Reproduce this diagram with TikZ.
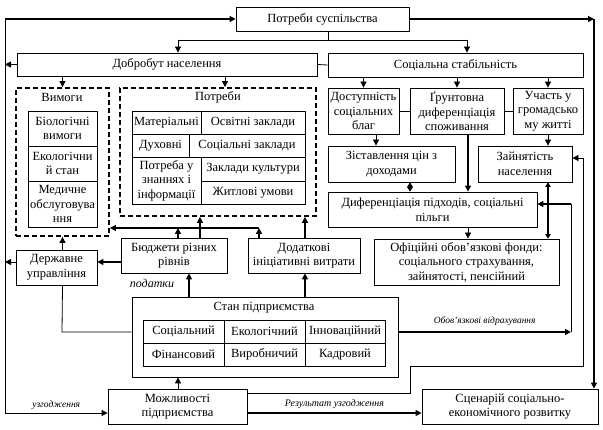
\documentclass[tikz,border=0pt]{standalone}
\usepackage{fontspec}
\setmainfont{Liberation Serif}
\usetikzlibrary{arrows.meta,calc}
\tikzset{
  box/.style={draw, line width=0.8pt, inner sep=1pt, align=center, font=\fontsize{12.5}{14.5}\selectfont},
  dbox/.style={line width=1.8pt, dash pattern=on 5pt off 3pt},
  ln/.style={line width=0.8pt},
  tk/.style={line width=2.4pt},
  arr/.style={-{Triangle[length=6pt,width=6pt]}},
  barr/.style={{Triangle[length=4.5pt,width=5.5pt]}-{Triangle[length=4.5pt,width=5.5pt]}},
  lbl/.style={font=\itshape\fontsize{9.5}{10}\selectfont, inner sep=1pt},
  ttl/.style={font=\fontsize{12.5}{14.5}\selectfont, inner sep=1pt},
}
\newcommand\mybox[7][]{\node[box,#1,minimum width={(#5-#3)*1pt},minimum height={(#6-#4)*1pt}] (#2) at ({(#3+#5)/2},{(#4+#6)/2}) {#7};}
\begin{document}
\begin{tikzpicture}[x=1pt,y=-1pt]
\useasboundingbox (0,0) rectangle (603,430);
% boxes
\mybox{ps}{236}{7}{409}{31}{Потреби суспільства}
\mybox{dob}{17}{53}{317}{76}{Добробут населення}
\mybox{soc}{328}{53}{583}{77}{Соціальна стабільність}
\mybox[dbox]{vym}{16}{88}{109}{236}{}
\mybox[dbox]{potr}{120}{88}{316}{216}{}
\node[ttl] (vymt) at (62,97) {Вимоги};
\node[ttl] (potrt) at (218,97) {Потреби};
\mybox{v1}{28}{111}{97}{146}{Біологічні\\вимоги}
\mybox{v2}{28}{146}{97}{181}{Екологічни\\й стан}
\mybox{v3}{28}{181}{97}{227}{Медичне\\обслуговува\\ння}
\mybox{m1}{132}{111}{201}{134}{Матеріальні}
\mybox{m2}{201}{111}{305}{134}{Освітні заклади}
\mybox{m3}{132}{134}{189}{157}{Духовні}
\mybox{m4}{189}{134}{305}{157}{Соціальні заклади}
\mybox{m5}{132}{157}{201}{204}{Потреба у\\знаннях і\\інформації}
\mybox{m6}{201}{157}{305}{181}{Заклади культури}
\mybox{m7}{201}{181}{305}{204}{Житлові умови}
\mybox{dost}{328}{88}{399}{134}{Доступність\\соціальних\\благ}
\mybox{grunt}{410}{88}{504}{134}{Ґрунтовна\\диференціація\\споживання}
\mybox{uch}{513}{88}{583}{134}{Участь у\\громадсько\\му житті}
\mybox{zist}{328}{146}{455}{182}{Зіставлення цін з\\доходами}
\mybox{zayn}{478}{146}{572}{182}{Зайнятість\\населення}
\mybox{dyf}{328}{192}{537}{227}{Диференціація підходів, соціальні\\пільги}
\mybox{ofi}{374}{239}{559}{285}{Офіційні обов’язкові фонди:\\соціального страхування,\\зайнятості, пенсійний}
\mybox{budz}{121}{238}{227}{273}{Бюджети різних\\рівнів}
\mybox{dod}{248}{238}{360}{273}{Додаткові\\ініціативні витрати}
\mybox{derzh}{16}{250}{97}{285}{Державне\\управління}
\mybox{stan}{132}{297}{398}{377}{}
\node[ttl] (stant) at (264,308) {Стан підприємства};
\mybox{s1}{143}{320}{224}{343}{Соціальний}
\mybox{s2}{224}{320}{305}{343}{Екологічний}
\mybox{s3}{305}{320}{385}{343}{Інноваційний}
\mybox{s4}{143}{343}{224}{366}{Фінансовий}
\mybox{s5}{224}{343}{305}{366}{Виробничий}
\mybox{s6}{305}{343}{385}{366}{Кадровий}
\mybox{mozh}{108}{389}{247}{424}{Можливості\\підприємства}
\mybox{scen}{422}{389}{598}{424}{Сценарій соціально-\\економічного розвитку}
% coordinates
\coordinate (L1) at (5,19);
\coordinate (L2) at (5,413);
\coordinate (R1) at (594,19);
\coordinate (T1) at (178,40);
\coordinate (T2) at (467,40);
\coordinate (T3) at (328,40);
\coordinate (P1) at (225,0);
\coordinate (X376) at (376,0);
\coordinate (X410) at (410,0);
\coordinate (X468) at (468,0);
\coordinate (X178) at (178,0);
\coordinate (X189) at (189,0);
\coordinate (X200) at (200,0);
\coordinate (X305) at (305,0);
\coordinate (Y262) at (0,262);
\coordinate (O1) at (571,332);
\coordinate (O2) at (571,204);
\coordinate (M1) at (410,393);
\coordinate (M2) at (410,366);
\coordinate (M3) at (583,366);
\coordinate (M4) at (583,158);
\coordinate (S1) at (0,413);
\coordinate (D1) at (62,332);
\coordinate (B1) at (259,228);
% outer loop
\draw[ln] (L1) -- (L2);
\draw[tk,arr] (L1) -- (ps.west);
\draw[ln,arr] (L2) -- (mozh.west |- L2) node[lbl,midway,above=2pt] {узгодження};
\draw[tk,arr] (ps.east) -- (R1);
\draw[tk,arr] (R1) -- (R1 |- scen.north);
% top distribution
\draw[ln] (T3 |- ps.south) -- (T3);
\draw[ln] (T1) -- (T2);
\draw[ln,arr] (T1) -- (T1 |- dob.north);
\draw[ln,arr] (T2) -- (T2 |- soc.north);
\draw[ln,arr] (dob.west) -- (dob.west -| L1);
\draw[ln] (dob.east) -- (soc.west);
\draw[ln,arr] (vym.north |- dob.south) -- (vym.north);
\draw[ln,arr] (P1 |- dob.south) -- (P1 |- potr.north);
\draw[ln,arr] (dost.north |- soc.south) -- (dost.north);
\draw[ln,arr] (grunt.north |- soc.south) -- (grunt.north);
\draw[ln,arr] (uch.north |- soc.south) -- (uch.north);
% social stability block
\draw[ln] (dost.east) -- (grunt.west);
\draw[ln] (grunt.east) -- (uch.west);
\draw[ln,arr] (X376 |- dost.south) -- (X376 |- zist.north);
\draw[ln,arr] (uch.south) -- (uch.south |- zayn.north);
\draw[tk,arr] (X468 |- grunt.south) -- (X468 |- dyf.north);
\draw[ln,barr] (X410 |- zist.south) -- (X410 |- dyf.north);
\draw[ln,arr] (X468 |- dyf.south) -- (X468 |- ofi.north);
\draw[tk,barr] (uch.south |- zayn.south) -- (uch.south |- ofi.north);
% obligatory deductions
\draw[tk,arr] (stan.east |- O1) -- (O1) node[lbl,midway,above=4pt] {Обов’язкові відрахування};
\draw[ln] (O1) -- (O2);
\draw[tk,arr] (O2) -- (O2 -| dyf.east);
% possibilities -> employment
\draw[ln,arr] (mozh.east |- M1) -- (M1) -- (M2) -- (M3) -- (M4) -- (M4 -| zayn.east);
% possibilities -> scenario
\draw[tk,arr] (mozh.east |- S1) -- (scen.west |- S1) node[lbl,midway,above=2.5pt,font=\itshape\fontsize{10}{10}\selectfont] {Результат узгодження};
\draw[ln,arr] (X178 |- mozh.north) -- (X178 |- stan.south);
% enterprise state
\draw[tk,arr] (X189 |- stan.north) -- (X189 |- budz.south);
\draw[tk,arr] (X305 |- stan.north) -- (X305 |- dod.south);
\node[lbl,font=\itshape\fontsize{12}{12}\selectfont] (podatky) at (152,283) {податки};
\draw[tk,arr] (budz.west |- Y262) -- (derzh.east |- Y262);
\draw[ln,arr] (derzh.west |- Y262) -- (L1 |- Y262);
\draw[ln,arr] (vym.south |- derzh.north) -- (vym.south);
\draw[ln] (vym.south |- derzh.south) -- (D1) -- (D1 -| stan.west);
% bus to requirements
\draw[tk,arr] (B1 |- dod.north) -- (B1);
\draw[tk,arr] (B1) -- (B1 -| vym.east);
\draw[tk,arr] (X178 |- budz.north) -- (X178 |- B1);
\draw[tk,arr] (X200 |- budz.north) -- (X200 |- potr.south);
\draw[tk,arr] (X305 |- dod.north) -- (X305 |- potr.south);
\end{tikzpicture}
\end{document}
